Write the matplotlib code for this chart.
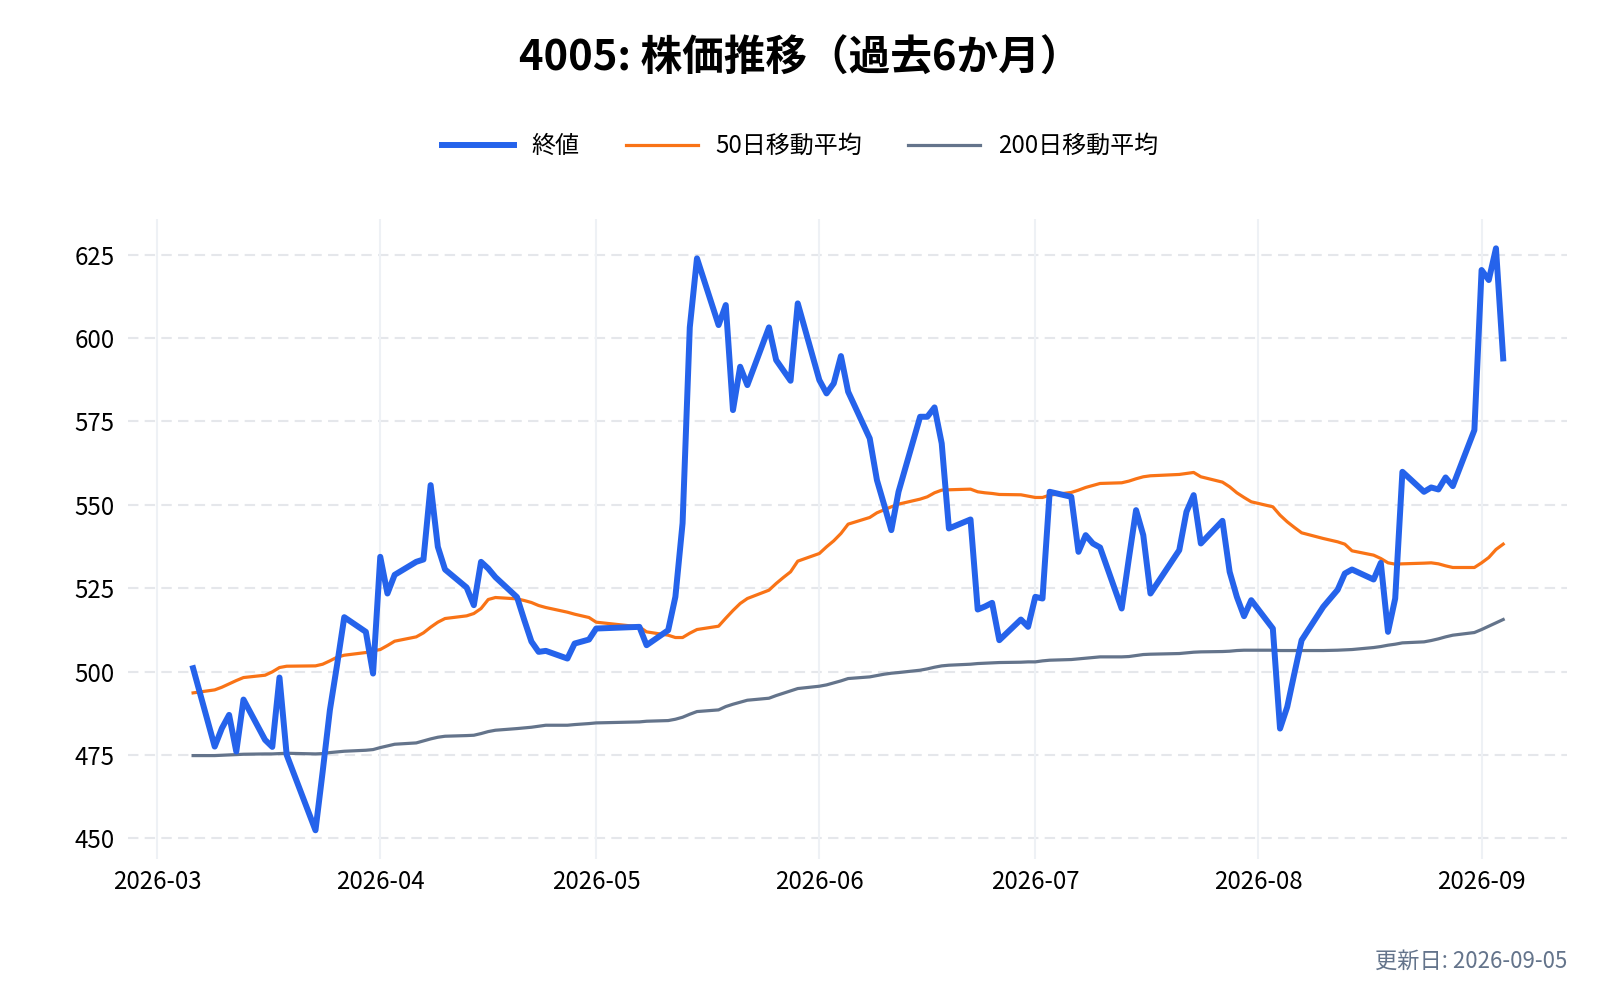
import pandas as pd
import matplotlib
matplotlib.use("Agg")
from matplotlib import pyplot as plt
import matplotlib.dates as mdates

plt.rcParams['font.family'] = ['Noto Sans CJK JP', 'DejaVu Sans']

# trading days (vertices of the lines)
dates = [
    "2026-03-06", "2026-03-09", "2026-03-10", "2026-03-11", "2026-03-12", "2026-03-13",
    "2026-03-16", "2026-03-17", "2026-03-18", "2026-03-19", "2026-03-23", "2026-03-24",
    "2026-03-25", "2026-03-26", "2026-03-27", "2026-03-30", "2026-03-31", "2026-04-01",
    "2026-04-02", "2026-04-03", "2026-04-06", "2026-04-07", "2026-04-08", "2026-04-09",
    "2026-04-10", "2026-04-13", "2026-04-14", "2026-04-15", "2026-04-16", "2026-04-17",
    "2026-04-20", "2026-04-21", "2026-04-22", "2026-04-23", "2026-04-24", "2026-04-27",
    "2026-04-28", "2026-04-30", "2026-05-01", "2026-05-07", "2026-05-08", "2026-05-11",
    "2026-05-12", "2026-05-13", "2026-05-14", "2026-05-15", "2026-05-18", "2026-05-19",
    "2026-05-20", "2026-05-21", "2026-05-22", "2026-05-25", "2026-05-26", "2026-05-27",
    "2026-05-28", "2026-05-29", "2026-06-01", "2026-06-02", "2026-06-03", "2026-06-04",
    "2026-06-05", "2026-06-08", "2026-06-09", "2026-06-10", "2026-06-11", "2026-06-12",
    "2026-06-15", "2026-06-16", "2026-06-17", "2026-06-18", "2026-06-19", "2026-06-22",
    "2026-06-23", "2026-06-24", "2026-06-25", "2026-06-26", "2026-06-29", "2026-06-30",
    "2026-07-01", "2026-07-02", "2026-07-03", "2026-07-06", "2026-07-07", "2026-07-08",
    "2026-07-09", "2026-07-10", "2026-07-13", "2026-07-14", "2026-07-15", "2026-07-16",
    "2026-07-17", "2026-07-21", "2026-07-22", "2026-07-23", "2026-07-24", "2026-07-27",
    "2026-07-28", "2026-07-29", "2026-07-30", "2026-07-31", "2026-08-03", "2026-08-04",
    "2026-08-05", "2026-08-06", "2026-08-07", "2026-08-10", "2026-08-12", "2026-08-13",
    "2026-08-14", "2026-08-17", "2026-08-18", "2026-08-19", "2026-08-20", "2026-08-21",
    "2026-08-24", "2026-08-25", "2026-08-26", "2026-08-27", "2026-08-28", "2026-08-31",
    "2026-09-01", "2026-09-02", "2026-09-03", "2026-09-04",
]

close = [
    501.0, 477.5, 483.0, 487.0, 476.0, 491.6,
    479.5, 477.4, 498.2, 475.0, 452.4, 470.0,
    488.4, 502.0, 516.3, 511.9, 499.4, 534.4,
    523.4, 529.0, 532.9, 533.6, 555.9, 537.4,
    530.6, 525.2, 519.9, 532.9, 530.9, 528.3,
    522.3, 515.5, 509.0, 505.9, 506.2, 503.9,
    508.4, 509.6, 512.9, 513.4, 507.9, 512.4,
    522.4, 544.5, 603.2, 623.9, 603.9, 609.9,
    578.4, 591.4, 585.9, 603.2, 593.4, 590.3,
    587.2, 610.4, 587.4, 583.4, 586.4, 594.6,
    583.9, 569.9, 557.4, 550.0, 542.4, 553.9,
    576.4, 576.4, 579.2, 568.4, 542.9, 545.6,
    518.6, 519.5, 520.6, 509.4, 515.6, 513.4,
    522.4, 521.9, 553.9, 552.4, 535.9, 540.9,
    538.4, 537.2, 518.9, 533.9, 548.4, 540.9,
    523.4, 536.4, 547.9, 552.9, 538.4, 545.2,
    529.9, 522.4, 516.6, 521.4, 512.9, 482.9,
    489.4, 499.5, 509.4, 519.4, 524.5, 529.4,
    530.6, 527.6, 532.6, 511.9, 521.9, 559.9,
    553.9, 555.2, 554.6, 558.2, 555.6, 572.4,
    620.4, 617.4, 626.9, 593.9,
]

ma50 = [
    493.6, 494.5, 495.3, 496.3, 497.3, 498.2,
    498.9, 499.9, 501.2, 501.6, 501.7, 502.2,
    503.2, 504.3, 504.9, 505.7, 506.2, 506.6,
    507.8, 509.1, 510.4, 511.6, 513.3, 514.8,
    515.9, 516.7, 517.4, 518.9, 521.6, 522.2,
    521.8, 521.3, 520.7, 519.8, 519.2, 517.8,
    517.2, 516.2, 514.8, 513.4, 511.9, 510.9,
    510.2, 510.2, 511.5, 512.6, 513.6, 516.0,
    518.3, 520.4, 521.9, 524.4, 526.4, 528.2,
    529.9, 533.1, 535.4, 537.4, 539.2, 541.4,
    544.2, 546.2, 547.6, 548.5, 549.4, 550.2,
    551.7, 552.4, 553.6, 554.4, 554.5, 554.7,
    553.9, 553.6, 553.4, 553.1, 553.0, 552.6,
    552.2, 552.2, 552.9, 553.7, 554.4, 555.2,
    555.8, 556.4, 556.6, 557.1, 557.8, 558.4,
    558.7, 559.1, 559.4, 559.7, 558.4, 556.8,
    555.4, 553.6, 552.2, 550.9, 549.4, 546.9,
    544.9, 543.2, 541.6, 539.9, 538.9, 538.2,
    536.2, 534.9, 533.9, 532.6, 532.2, 532.3,
    532.5, 532.6, 532.3, 531.7, 531.2, 531.2,
    532.6, 534.2, 536.6, 538.2,
]

ma200 = [
    474.8, 474.8, 474.9, 475.0, 475.1, 475.2,
    475.3, 475.3, 475.4, 475.5, 475.3, 475.4,
    475.7, 475.9, 476.1, 476.4, 476.6, 477.2,
    477.7, 478.2, 478.6, 479.2, 479.8, 480.3,
    480.6, 480.8, 480.9, 481.4, 482.0, 482.4,
    482.9, 483.1, 483.3, 483.6, 483.9, 483.9,
    484.1, 484.4, 484.6, 484.9, 485.1, 485.3,
    485.7, 486.3, 487.2, 488.0, 488.5, 489.5,
    490.2, 490.8, 491.4, 492.0, 492.8, 493.5,
    494.2, 494.9, 495.6, 496.0, 496.6, 497.2,
    497.9, 498.4, 498.8, 499.2, 499.5, 499.7,
    500.4, 500.8, 501.3, 501.7, 501.9, 502.2,
    502.4, 502.5, 502.6, 502.7, 502.8, 502.9,
    502.9, 503.2, 503.4, 503.6, 503.8, 504.0,
    504.2, 504.4, 504.4, 504.5, 504.8, 505.1,
    505.2, 505.4, 505.6, 505.8, 505.9, 506.0,
    506.1, 506.3, 506.4, 506.4, 506.4, 506.3,
    506.3, 506.3, 506.3, 506.3, 506.4, 506.5,
    506.6, 507.2, 507.5, 507.9, 508.2, 508.6,
    508.9, 509.3, 509.8, 510.4, 510.9, 511.7,
    512.6, 513.6, 514.6, 515.6,
]

yticks = [450, 475, 500, 525, 550, 575, 600, 625]
month_ticks = ["2026-03-01", "2026-04-01", "2026-05-01", "2026-06-01",
               "2026-07-01", "2026-08-01", "2026-09-01"]

x = pd.to_datetime(dates)

fig = plt.figure(figsize=(16, 10), dpi=100)
ax = fig.add_axes([0.0802, 0.1407, 0.8994, 0.6403])

ax.plot(x, close, color="#2563eb", lw=4.3, label="終値", solid_joinstyle="round", zorder=3)
ax.plot(x, ma50, color="#f97316", lw=2.3, label="50日移動平均", zorder=2)
ax.plot(x, ma200, color="#64748b", lw=2.3, label="200日移動平均", zorder=2)

ax.set_xlim(pd.Timestamp("2026-02-25"), pd.Timestamp("2026-09-12 22:00"))
ax.set_ylim(443.7, 635.7)

ax.set_yticks(yticks)
ax.set_xticks(pd.to_datetime(month_ticks))
ax.xaxis.set_major_formatter(mdates.DateFormatter("%Y-%m"))

for s in ax.spines.values():
    s.set_visible(False)
ax.tick_params(axis="both", length=0, labelsize=17.3, colors="black")
ax.tick_params(axis="y", pad=10)
ax.tick_params(axis="x", pad=7)

ax.grid(False)
for yv in yticks:
    ax.axhline(yv, color="#e5e7eb", lw=1.5, ls=(0, (5, 3)), zorder=0)
for mt in pd.to_datetime(month_ticks):
    ax.axvline(mt, color="#eef1f5", lw=1.5, zorder=0)

fig.suptitle("4005: 株価推移（過去6か月）", x=0.5, y=0.941, va="center",
             fontsize=30, fontweight="bold")

fig.legend(loc="center", bbox_to_anchor=(0.5, 0.854), ncol=3, frameon=False,
           fontsize=17.3, handlelength=3.0, handletextpad=0.75, columnspacing=1.9)

fig.text(0.9796, 0.0383, "更新日: 2026-09-05", ha="right", va="center",
         fontsize=16, color="#64748b")

fig.savefig("out.png", dpi=100, facecolor="white")
